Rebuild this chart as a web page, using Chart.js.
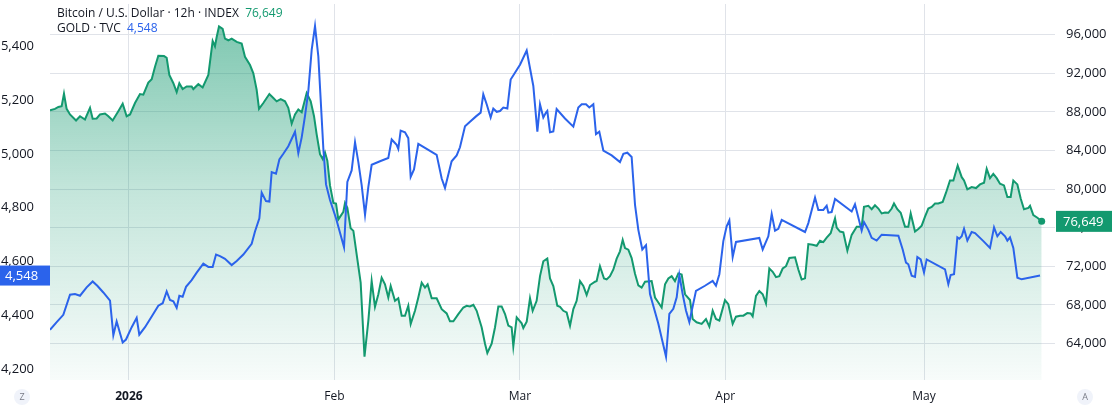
<!DOCTYPE html>
<html>
<head>
<meta charset="utf-8">
<script src="https://cdn.jsdelivr.net/npm/chart.js@4/dist/chart.umd.min.js"></script>
<style>
    html, body { margin: 0; padding: 0; background: #ffffff; }
    canvas { display: block; }
</style>
</head>
<body>
<canvas id="chart" width="1114" height="408"></canvas>
<script>
// days are counted from 1 Jan 2026 (12h bars, so fractions)
const btcDays = [
    -11.92, -11.17, -10.66, -10.16, -9.81, -9.41, -8.90, -7.99, -7.39, -6.64, -5.88, -5.48, -4.88, -4.37, -3.62, -3.11,
    -2.46, -1.61, -0.95, -0.35, 0.16, 0.91, 1.66, 2.17, 2.92, 3.43, 3.93, 4.43, 5.29, 5.69, 6.09, 6.70, 7.20, 7.60, 8.10,
    8.71, 9.46, 9.71, 10.47, 11.12, 11.98, 12.63, 12.98, 13.24, 13.59, 14.14, 14.49, 15.00, 15.50, 16.26, 17.01, 17.51,
    18.27, 18.77, 19.27, 19.63, 20.28, 21.19, 21.79, 22.29, 22.90, 23.55, 24.05, 24.56, 25.06, 25.56, 26.07, 26.82, 27.43,
    27.93, 28.33, 28.83, 29.24, 29.59, 29.94, 30.34, 30.85, 31.25, 31.60, 32.36, 32.61, 32.96, 33.46, 33.87, 34.37, 34.97,
    35.55, 36.13, 36.63, 37.13, 37.64, 38.14, 38.64, 39.14, 39.50, 40.15, 40.65, 41.16, 41.66, 42.16, 42.52, 43.17, 43.67,
    44.18, 44.68, 45.08, 45.69, 46.44, 47.20, 47.95, 48.45, 48.96, 49.71, 50.47, 50.97, 51.47, 51.98, 52.48, 53.23, 53.74,
    54.09, 54.74, 55.25, 55.75, 56.25, 56.76, 57.26, 57.76, 58.01, 58.52, 59.27, 59.52, 60.03, 60.53, 60.93, 61.53, 62.04,
    62.54, 63.14, 63.55, 64.05, 64.65, 65.06, 65.56, 66.06, 66.57, 67.07, 67.57, 68.08, 68.58, 69.08, 69.59, 70.34, 70.59,
    71.09, 71.70, 72.10, 72.60, 73.11, 73.61, 74.11, 74.52, 74.87, 75.37, 75.87, 76.38, 76.88, 77.38, 77.89, 78.89, 79.40,
    79.90, 80.40, 80.91, 81.41, 81.91, 82.41, 82.92, 83.42, 83.93, 84.68, 85.08, 85.68, 86.44, 87.09, 87.60, 88.10, 88.60,
    89.11, 89.96, 90.46, 91.12, 91.62, 92.23, 92.73, 93.33, 93.84, 94.14, 94.64, 95.14, 95.65, 96.15, 96.65, 97.16, 97.66,
    98.16, 98.67, 99.17, 99.67, 100.53, 101.03, 101.53, 102.04, 102.54, 103.19, 103.80, 104.30, 104.80, 105.31, 105.91,
    106.57, 106.82, 107.32, 107.82, 108.43, 109.08, 109.84, 110.59, 110.94, 111.60, 112.10, 112.60, 113.11, 113.61, 114.11,
    114.62, 115.12, 115.47, 115.97, 116.48, 117.13, 117.63, 117.99, 118.64, 119.14, 119.65, 120.15, 120.65, 121.16, 121.66,
    122.16, 122.82, 123.32, 123.92, 124.43, 125.08, 125.69, 126.04, 126.54, 127.19, 127.85, 128.45, 129.06, 129.46, 129.96,
    130.46, 130.97, 131.47, 132.07, 132.58, 133.08, 133.48, 134.09, 134.59, 135.09, 135.75, 136.00, 136.50, 137.11, 137.76
];
const btcPrice = [
    88170, 88310, 88510, 88580, 89880, 88310, 87730, 87110, 87550, 87210, 88410, 87280, 87310, 87730, 87830, 87550,
    87110, 88070, 88850, 87550, 87730, 88920, 89850, 89780, 91040, 91380, 92680, 93810, 93780, 93610, 91830, 90970, 90050, 90970, 90360,
    90630, 90630, 90360, 90870, 90530, 91830, 95350, 94800, 95760, 96850, 96610, 95590, 95420, 95590, 95250, 95080, 93710,
    92850, 92000, 90290, 88310, 88920, 89850, 89440, 89090, 89330, 89090, 88410, 86770, 87730, 88240, 87960, 89950, 89090,
    87550, 85670, 83620, 83110, 83790, 82940, 80370, 78560, 78490, 76850, 77640, 78560, 78050, 75930, 75660, 73200, 70290,
    62630, 66360, 70460, 67790, 69090, 70800, 70120, 68750, 69950, 68410, 68680, 66870, 66870, 67900, 66020, 67380, 68750,
    70290, 69780, 70120, 68680, 68680, 67550, 67110, 66290, 66290, 67040, 67720, 67900, 67830, 68000, 67380, 65670, 63960,
    63000, 63960, 65670, 67830, 67830, 67040, 65840, 65670, 63690, 66700, 66080, 65600, 66250, 68680, 67380, 68410, 70970,
    72510, 72790, 70730, 69950, 67900, 67790, 67380, 67210, 65840, 67550, 68410, 70460, 69950, 69020, 70050, 70390, 70460,
    72000, 70730, 70630, 70970, 71660, 72790, 73540, 74730, 73880, 73710, 72850, 71210, 70010, 69780, 70390, 70460, 68750,
    68240, 67720, 70120, 70730, 70970, 70460, 71250, 71150, 69090, 68500, 66530, 66190, 66020, 66530, 65740, 67390, 66530,
    66360, 68480, 68070, 66020, 66770, 66870, 66870, 67140, 67110, 66800, 68920, 69430, 69090, 68140, 71760, 71420, 70870,
    70970, 71760, 72000, 72850, 72920, 71660, 70630, 70740, 74290, 74220, 74120, 74630, 74500, 74970, 75420,
    76960, 76000, 75590, 75520, 73610, 75250, 76100, 76100, 78150, 78260, 77910, 78320, 77980, 77470, 77570,
    77540, 77980, 78500, 77910, 77540, 76100, 76100, 77470, 75590, 75860, 76200, 77130, 77980, 78150, 78500,
    78500, 78670, 79620, 80890, 80890, 82430, 81230, 80890, 79960, 80200, 80100, 80480, 80650, 82090, 81130,
    81570, 81130, 80550, 80380, 79180, 79180, 80890, 80480, 79010, 77910, 78050, 78260, 77300, 77030, 76649
];

const goldDays = [
    -11.92, -10.91, -9.91, -8.90, -8.15, -7.39, -6.39, -5.48, -4.78, -3.87, -2.86, -2.36, -1.86, -0.95, -0.45, 0.41, 1.16,
    1.56, 2.42, 3.43, 4.43, 5.09, 5.69, 6.19, 6.70, 7.20, 7.60, 8.10, 8.61, 9.46, 10.22, 11.22, 11.98, 12.63, 13.14, 13.74,
    14.49, 15.50, 16.26, 17.26, 18.52, 19.02, 19.68, 20.03, 20.68, 21.19, 21.54, 22.19, 22.70, 23.30, 24.05, 25.06, 25.56,
    26.07, 26.57, 27.07, 27.58, 28.08, 28.58, 29.34, 29.74, 30.34, 31.25, 32.46, 32.96, 33.61, 34.12, 34.62, 35.12, 35.63,
    36.13, 36.63, 37.89, 39.14, 39.65, 40.40, 40.65, 41.01, 41.66, 42.16, 42.52, 43.02, 43.67, 44.93, 46.44, 47.20, 47.70,
    48.70, 49.46, 49.96, 50.72, 51.47, 52.38, 53.08, 53.48, 53.99, 54.59, 54.99, 55.50, 56.00, 56.50, 57.11, 57.61, 58.26,
    59.02, 60.03, 61.03, 61.64, 62.04, 62.54, 62.94, 63.14, 63.55, 64.05, 64.55, 65.81, 67.07, 67.82, 68.33, 68.98, 69.48,
    70.09, 70.49, 70.99, 71.60, 72.86, 74.11, 74.62, 75.22, 75.87, 76.38, 76.88, 77.48, 78.04, 78.64, 79.90, 81.06, 81.56,
    82.16, 82.67, 83.07, 83.57, 84.07, 84.58, 85.58, 86.94, 88.10, 88.60, 89.11, 89.71, 90.21, 90.62, 91.12, 91.62, 95.14,
    95.65, 96.50, 97.01, 97.51, 98.01, 98.52, 102.04, 102.54, 103.55, 104.05, 104.80, 105.31, 105.56, 106.06, 106.57,
    109.08, 109.58, 110.24, 110.59, 110.94, 111.60, 112.10, 112.85, 113.61, 116.13, 116.78, 117.28, 117.63, 118.14, 118.64,
    118.99, 119.50, 120.00, 120.40, 123.17, 123.67, 124.02, 124.53, 125.03, 125.33, 125.69, 126.04, 126.54, 127.19, 127.70,
    128.96, 129.96, 130.57, 131.07, 131.57, 132.23, 132.58, 132.98, 133.48, 134.09, 134.74, 137.51
];
const goldPrice = [
    4346, 4375, 4402, 4477, 4479, 4473, 4504, 4526, 4510, 4485, 4455, 4326, 4377, 4299, 4310, 4356, 4391,
    4328, 4356, 4396, 4436, 4445, 4489, 4457, 4452, 4428, 4473, 4469, 4506, 4531, 4559, 4592, 4580, 4580, 4626, 4620,
    4610, 4587, 4602, 4626, 4666, 4712, 4761, 4857, 4825, 4823, 4933, 4927, 4980, 5001, 5029, 5083, 5003,
    5062, 5142, 5234, 5388, 5476, 5363, 5019, 4887, 4829, 4761, 4653, 4896, 4939, 5044, 4970, 4884, 4774,
    4878, 4960, 4973, 4985, 5054, 5034, 5019, 5087, 5081, 5059, 4915, 4943, 5038, 5019, 4997, 4909, 4874,
    4973, 4995, 5025, 5103, 5120, 5140, 5154, 5222, 5185, 5136, 5169, 5157, 5160, 5173, 5169, 5277, 5302,
    5332, 5385, 5253, 5083, 5185, 5136, 5154, 5160, 5081, 5084, 5167, 5132, 5102, 5173, 5185, 5185, 5173,
    5185, 5074, 5083, 5013, 4995, 4970, 5001, 5005, 4989, 4811, 4718, 4645, 4661, 4479, 4369, 4246, 4405,
    4424, 4467, 4550, 4479, 4418, 4375, 4491, 4510, 4528, 4510, 4553, 4676, 4731, 4753, 4617, 4673, 4688,
    4645, 4694, 4777, 4715, 4722, 4755, 4710, 4743, 4838, 4792, 4792, 4808, 4782, 4784, 4833,
    4786, 4813, 4749, 4715, 4747, 4718, 4688, 4678, 4700, 4696, 4645, 4596, 4590, 4547, 4543,
    4617, 4608, 4559, 4608, 4571, 4516, 4550, 4553, 4690, 4685, 4694, 4722, 4678, 4710, 4706,
    4676, 4651, 4727, 4694, 4710, 4694, 4678, 4690, 4651, 4540, 4534, 4548
];

const monthTicks = [0, 31, 59, 90, 120];
const monthLabels = ['2026', 'Feb', 'Mar', 'Apr', 'May'];
const btcTicks = [64000, 68000, 72000, 76000, 80000, 84000, 88000, 92000, 96000];
const goldTicks = [4200, 4400, 4600, 4800, 5000, 5200, 5400];

const GREEN = '#13996f';
const BLUE = '#2b63eb';
const TEXT = '#131722';
const GRID = '#e0e3e9';

function fmt(v) {
    return v.toLocaleString('en-US');
}

function areaGradient(context) {
    const chart = context.chart;
    const area = chart.chartArea;
    if (!area) return 'rgba(19,153,111,0.3)';
    const g = chart.ctx.createLinearGradient(0, area.top, 0, area.bottom);
    g.addColorStop(0, 'rgba(19,153,111,0.58)');
    g.addColorStop(0.5, 'rgba(19,153,111,0.25)');
    g.addColorStop(1, 'rgba(19,153,111,0.03)');
    return g;
}

// y axes reserve room for half a label at top; the reference plot starts at the very top
function fitY(width) {
    return scale => {
        scale.width = width;
        scale.paddingTop = 0;
        scale.paddingBottom = 0;
    };
}

const overlayPlugin = {
    id: 'overlay',
    afterDraw(chart) {
        const ctx = chart.ctx;
        const yR = chart.scales.yBtc;
        const yL = chart.scales.yGold;
        const btcLast = btcPrice[btcPrice.length - 1];
        const goldLast = goldPrice[goldPrice.length - 1];

        ctx.save();
        // legend
        ctx.textBaseline = 'middle';
        ctx.font = '12px "Open Sans", sans-serif';
        let x = 57;
        const t1 = 'Bitcoin / U.S. Dollar · 12h · INDEX  ';
        ctx.fillStyle = TEXT;
        ctx.fillText(t1, x, 14);
        ctx.fillStyle = GREEN;
        ctx.fillText(fmt(btcLast), x + ctx.measureText(t1).width, 14);
        const t2 = 'GOLD · TVC  ';
        ctx.fillStyle = TEXT;
        ctx.fillText(t2, x, 29);
        ctx.fillStyle = BLUE;
        ctx.fillText(fmt(goldLast), x + ctx.measureText(t2).width, 29);

        // last value tags
        ctx.font = '13px "Open Sans", sans-serif';
        const yb = yR.getPixelForValue(btcLast);
        ctx.fillStyle = GREEN;
        ctx.fillRect(1056, yb - 10.5, 56, 21);
        ctx.fillStyle = '#ffffff';
        ctx.textAlign = 'left';
        ctx.fillText(fmt(btcLast), 1063, yb + 0.5);

        const yg = yL.getPixelForValue(goldLast);
        ctx.fillStyle = BLUE;
        ctx.fillRect(0, yg - 10, 50, 20);
        ctx.fillStyle = '#ffffff';
        ctx.fillText(fmt(goldLast), 5, yg + 0.5);

        // corner buttons
        [[22, 'Z'], [1085, 'A']].forEach(([cx, letter]) => {
            ctx.beginPath();
            ctx.arc(cx, 397, 8, 0, Math.PI * 2);
            ctx.fillStyle = '#f0f3fa';
            ctx.fill();
            ctx.fillStyle = '#787b86';
            ctx.font = '9px "Open Sans", sans-serif';
            ctx.textAlign = 'center';
            ctx.fillText(letter, cx, 397.5);
        });
        ctx.restore();
    }
};

new Chart(document.getElementById('chart'), {
    type: 'line',
    data: {
        datasets: [
            {
                label: 'GOLD',
                data: goldDays.map((d, i) => ({ x: d, y: goldPrice[i] })),
                yAxisID: 'yGold',
                borderColor: BLUE,
                borderWidth: 2,
                pointRadius: 0,
                tension: 0,
                fill: false,
                order: 0,
            },
            {
                label: 'Bitcoin / U.S. Dollar',
                data: btcDays.map((d, i) => ({ x: d, y: btcPrice[i] })),
                yAxisID: 'yBtc',
                borderColor: GREEN,
                borderWidth: 2,
                backgroundColor: areaGradient,
                fill: 'start',
                tension: 0,
                pointRadius: ctx => (ctx.dataIndex === btcPrice.length - 1 ? 3.5 : 0),
                pointBackgroundColor: GREEN,
                pointBorderWidth: 0,
                order: 1,
            },
        ],
    },
    options: {
        responsive: false,
        animation: false,
        layout: { padding: 0 },
        plugins: {
            legend: { display: false },
            tooltip: { enabled: false },
        },
        scales: {
            x: {
                type: 'linear',
                min: -11.92,
                max: 139.77,
                afterBuildTicks: scale => {
                    scale.ticks = monthTicks.map(v => ({ value: v }));
                },
                afterFit: scale => {
                    scale.height = 28;
                    scale.paddingLeft = 0;
                    scale.paddingRight = 0;
                },
                ticks: {
                    padding: 9,
                    color: TEXT,
                    maxRotation: 0,
                    autoSkip: false,
                    font: ctx => ({
                        family: '"Open Sans", sans-serif',
                        size: 12,
                        weight: ctx.tick && ctx.tick.value === 0 ? 'bold' : 'normal',
                    }),
                    callback: value => monthLabels[monthTicks.indexOf(value)],
                },
                grid: { color: GRID, drawTicks: false },
                border: { display: false },
            },
            yGold: {
                position: 'left',
                min: 4159.5,
                max: 5558,
                afterBuildTicks: scale => {
                    scale.ticks = goldTicks.map(v => ({ value: v }));
                },
                afterFit: fitY(50),
                ticks: {
                    padding: 8,
                    color: TEXT,
                    font: { family: '"Open Sans", sans-serif', size: 13 },
                    callback: value => fmt(value),
                },
                grid: { display: false },
                border: { display: false },
            },
            yBtc: {
                position: 'right',
                min: 60205,
                max: 99180,
                afterBuildTicks: scale => {
                    scale.ticks = btcTicks.map(v => ({ value: v }));
                },
                afterFit: fitY(59),
                ticks: {
                    padding: 11,
                    color: TEXT,
                    font: { family: '"Open Sans", sans-serif', size: 13 },
                    callback: value => fmt(value),
                },
                grid: { color: GRID, drawTicks: false },
                border: { display: false },
            },
        },
    },
    plugins: [overlayPlugin],
});
</script>
</body>
</html>
